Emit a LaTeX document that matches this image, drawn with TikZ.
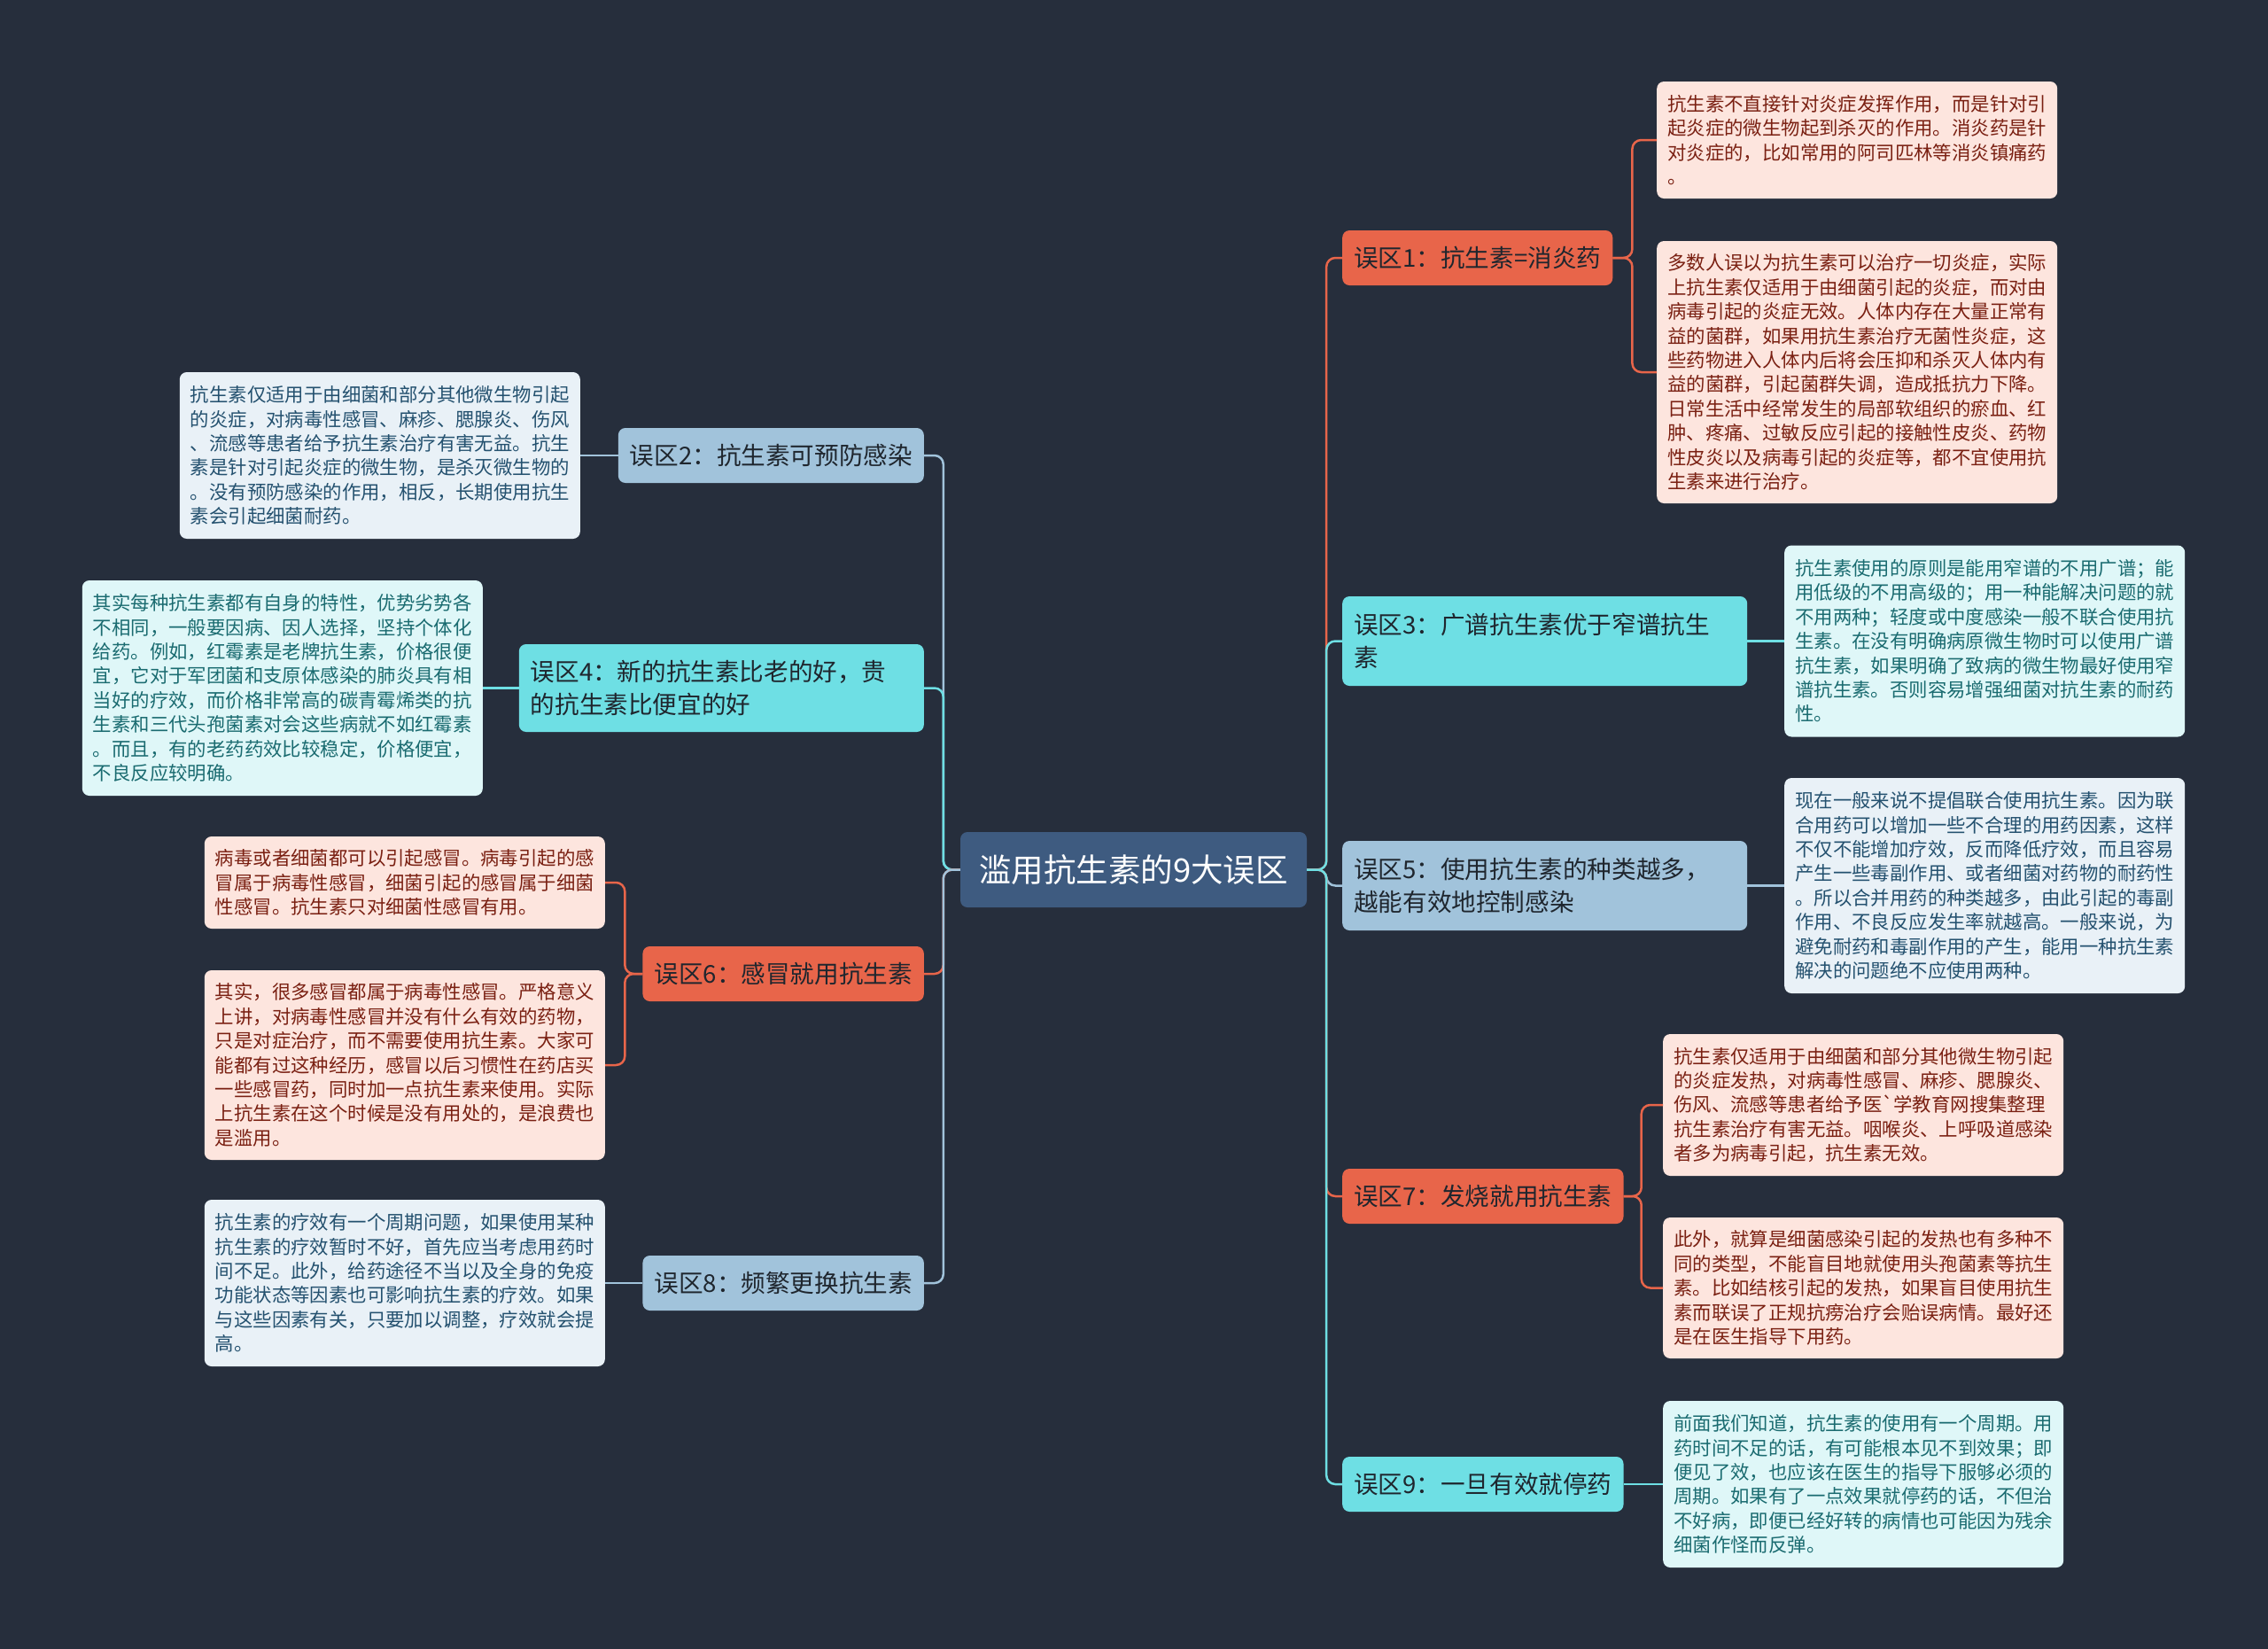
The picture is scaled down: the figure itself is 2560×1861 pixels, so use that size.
\documentclass[tikz,border=0pt]{standalone}
\usepackage{fontspec}
\setmainfont{Noto Sans CJK SC}
\definecolor{bg}{HTML}{262E3C}
\definecolor{rootblue}{HTML}{3E5B80}
\definecolor{orgnode}{HTML}{E8654A}
\definecolor{cyannode}{HTML}{6EDFE4}
\definecolor{greynode}{HTML}{A1C3DB}
\definecolor{topictext}{HTML}{1F262E}
\definecolor{pinkbg}{HTML}{FDE5DE}
\definecolor{pinktext}{HTML}{7A2012}
\definecolor{cyanbg}{HTML}{DFF7F8}
\definecolor{cyantext}{HTML}{1A6B70}
\definecolor{greybg}{HTML}{E9F1F7}
\definecolor{greytext}{HTML}{24516F}

\begin{document}
\begin{tikzpicture}[x=1pt, y=-1pt,
	root/.style={fill=rootblue, text=white, rounded corners=8pt, font=\fontsize{36.5}{44}\selectfont, minimum width=391pt, minimum height=85pt, inner sep=0pt},
	topic/.style={rounded corners=8pt, text=topictext, font=\fontsize{27.6}{37}\selectfont, inner xsep=13pt, inner ysep=0pt, minimum height=62pt},
	topictwo/.style={topic, text width=431pt, align=left, minimum height=101pt},
	leaf/.style={rounded corners=8pt, font=\fontsize{21.4}{27.4}\selectfont, text width=428pt, align=left, inner xsep=12pt, inner ysep=4pt},
	pinkleaf/.style={leaf, fill=pinkbg, text=pinktext},
	cyanleaf/.style={leaf, fill=cyanbg, text=cyantext},
	greyleaf/.style={leaf, fill=greybg, text=greytext},
	cline/.style={line width=2.5pt, rounded corners=10pt}]
	\useasboundingbox (0,0) rectangle (2560,1861);
	\fill[bg] (0,0) rectangle (2560,1861);

	\node[root] (c) at (1279.5,981.5) {滥用抗生素的9大误区};

	\node[topic, fill=orgnode, anchor=west] (e1) at (1515,291) {误区1：抗生素=消炎药};
	\node[topic, fill=greynode, anchor=east] (e2) at (1043,514) {误区2：抗生素可预防感染};
	\node[topictwo, fill=cyannode, anchor=west] (e3) at (1515,723.5) {误区3：广谱抗生素优于窄谱抗生\\素};
	\node[topictwo, fill=cyannode, anchor=east, minimum height=99pt] (e4) at (1043,776.5) {误区4：新的抗生素比老的好，贵\\的抗生素比便宜的好};
	\node[topictwo, fill=greynode, anchor=west] (e5) at (1515,999.5) {误区5：使用抗生素的种类越多，\\越能有效地控制感染};
	\node[topic, fill=orgnode, anchor=east] (e6) at (1043,1099) {误区6：感冒就用抗生素};
	\node[topic, fill=orgnode, anchor=west] (e7) at (1515,1350) {误区7：发烧就用抗生素};
	\node[topic, fill=greynode, anchor=east] (e8) at (1043,1448) {误区8：频繁更换抗生素};
	\node[topic, fill=cyannode, anchor=west] (e9) at (1515,1675) {误区9：一旦有效就停药};

	\node[pinkleaf, anchor=west, minimum height=132pt] (r1a) at (1870,158) {抗生素不直接针对炎症发挥作用，而是针对引\\起炎症的微生物起到杀灭的作用。消炎药是针\\对炎症的，比如常用的阿司匹林等消炎镇痛药\\。};
	\node[pinkleaf, anchor=west, minimum height=296pt] (r1b) at (1870,420) {多数人误以为抗生素可以治疗一切炎症，实际\\上抗生素仅适用于由细菌引起的炎症，而对由\\病毒引起的炎症无效。人体内存在大量正常有\\益的菌群，如果用抗生素治疗无菌性炎症，这\\些药物进入人体内后将会压抑和杀灭人体内有\\益的菌群，引起菌群失调，造成抵抗力下降。\\日常生活中经常发生的局部软组织的瘀血、红\\肿、疼痛、过敏反应引起的接触性皮炎、药物\\性皮炎以及病毒引起的炎症等，都不宜使用抗\\生素来进行治疗。};
	\node[cyanleaf, anchor=west, minimum height=216pt] (r3) at (2014,723.5) {抗生素使用的原则是能用窄谱的不用广谱；能\\用低级的不用高级的；用一种能解决问题的就\\不用两种；轻度或中度感染一般不联合使用抗\\生素。在没有明确病原微生物时可以使用广谱\\抗生素，如果明确了致病的微生物最好使用窄\\谱抗生素。否则容易增强细菌对抗生素的耐药\\性。};
	\node[greyleaf, anchor=west, minimum height=243pt] (r5) at (2014,999.5) {现在一般来说不提倡联合使用抗生素。因为联\\合用药可以增加一些不合理的用药因素，这样\\不仅不能增加疗效，反而降低疗效，而且容易\\产生一些毒副作用、或者细菌对药物的耐药性\\。所以合并用药的种类越多，由此引起的毒副\\作用、不良反应发生率就越高。一般来说，为\\避免耐药和毒副作用的产生，能用一种抗生素\\解决的问题绝不应使用两种。};
	\node[pinkleaf, anchor=west, minimum height=160pt] (r7a) at (1877,1247) {抗生素仅适用于由细菌和部分其他微生物引起\\的炎症发热，对病毒性感冒、麻疹、腮腺炎、\\伤风、流感等患者给予医\textasciigrave 学教育网搜集整理\\抗生素治疗有害无益。咽喉炎、上呼吸道感染\\者多为病毒引起，抗生素无效。};
	\node[pinkleaf, anchor=west, minimum height=159pt] (r7b) at (1877,1453.5) {此外，就算是细菌感染引起的发热也有多种不\\同的类型，不能盲目地就使用头孢菌素等抗生\\素。比如结核引起的发热，如果盲目使用抗生\\素而联误了正规抗痨治疗会贻误病情。最好还\\是在医生指导下用药。};
	\node[cyanleaf, anchor=west, minimum height=188pt] (r9) at (1877,1675) {前面我们知道，抗生素的使用有一个周期。用\\药时间不足的话，有可能根本见不到效果；即\\便见了效，也应该在医生的指导下服够必须的\\周期。如果有了一点效果就停药的话，不但治\\不好病，即便已经好转的病情也可能因为残余\\细菌作怪而反弹。};

	\node[greyleaf, anchor=east, minimum height=188pt] (l2) at (655,514) {抗生素仅适用于由细菌和部分其他微生物引起\\的炎症，对病毒性感冒、麻疹、腮腺炎、伤风\\、流感等患者给予抗生素治疗有害无益。抗生\\素是针对引起炎症的微生物，是杀灭微生物的\\。没有预防感染的作用，相反，长期使用抗生\\素会引起细菌耐药。};
	\node[cyanleaf, anchor=east, minimum height=243pt] (l4) at (545,776.5) {其实每种抗生素都有自身的特性，优势劣势各\\不相同，一般要因病、因人选择，坚持个体化\\给药。例如，红霉素是老牌抗生素，价格很便\\宜，它对于军团菌和支原体感染的肺炎具有相\\当好的疗效，而价格非常高的碳青霉烯类的抗\\生素和三代头孢菌素对会这些病就不如红霉素\\。而且，有的老药药效比较稳定，价格便宜，\\不良反应较明确。};
	\node[pinkleaf, anchor=east, minimum height=104pt] (l6a) at (683,996) {病毒或者细菌都可以引起感冒。病毒引起的感\\冒属于病毒性感冒，细菌引起的感冒属于细菌\\性感冒。抗生素只对细菌性感冒有用。};
	\node[pinkleaf, anchor=east, minimum height=214pt] (l6b) at (683,1202) {其实，很多感冒都属于病毒性感冒。严格意义\\上讲，对病毒性感冒并没有什么有效的药物，\\只是对症治疗，而不需要使用抗生素。大家可\\能都有过这种经历，感冒以后习惯性在药店买\\一些感冒药，同时加一点抗生素来使用。实际\\上抗生素在这个时候是没有用处的，是浪费也\\是滥用。};
	\node[greyleaf, anchor=east, minimum height=188pt] (l8) at (683,1448) {抗生素的疗效有一个周期问题，如果使用某种\\抗生素的疗效暂时不好，首先应当考虑用药时\\间不足。此外，给药途径不当以及全身的免疫\\功能状态等因素也可影响抗生素的疗效。如果\\与这些因素有关，只要加以调整，疗效就会提\\高。};

	\draw[cline, orgnode] (c.east) -- ++(22,0) |- (e1.west);
	\draw[cline, greynode] (c.west) -- ++(-19,0) |- (e2.east);
	\draw[cline, cyannode] (c.east) -- ++(22,0) |- (e3.west);
	\draw[cline, cyannode] (c.west) -- ++(-19,0) |- (e4.east);
	\draw[cline, greynode] (c.east) -- ++(22,0) |- (e5.west);
	\draw[cline, orgnode] (c.west) -- ++(-19,0) |- (e6.east);
	\draw[cline, orgnode] (c.east) -- ++(22,0) |- (e7.west);
	\draw[cline, greynode] (c.west) -- ++(-19,0) |- (e8.east);
	\draw[cline, cyannode] (c.east) -- ++(22,0) |- (e9.west);

	\draw[cline, orgnode] (e1.east) -- ++(22,0) |- (r1a.west);
	\draw[cline, orgnode] (e1.east) -- ++(22,0) |- (r1b.west);
	\draw[cline, cyannode] (e3.east) -- (r3.west);
	\draw[cline, greynode] (e5.east) -- (r5.west);
	\draw[cline, orgnode] (e7.east) -- ++(20,0) |- (r7a.west);
	\draw[cline, orgnode] (e7.east) -- ++(20,0) |- (r7b.west);
	\draw[cline, cyannode] (e9.east) -- (r9.west);
	\draw[cline, greynode] (e2.west) -- (l2.east);
	\draw[cline, cyannode] (e4.west) -- (l4.east);
	\draw[cline, orgnode] (e6.west) -- ++(-20,0) |- (l6a.east);
	\draw[cline, orgnode] (e6.west) -- ++(-20,0) |- (l6b.east);
	\draw[cline, greynode] (e8.west) -- (l8.east);
\end{tikzpicture}
\end{document}
